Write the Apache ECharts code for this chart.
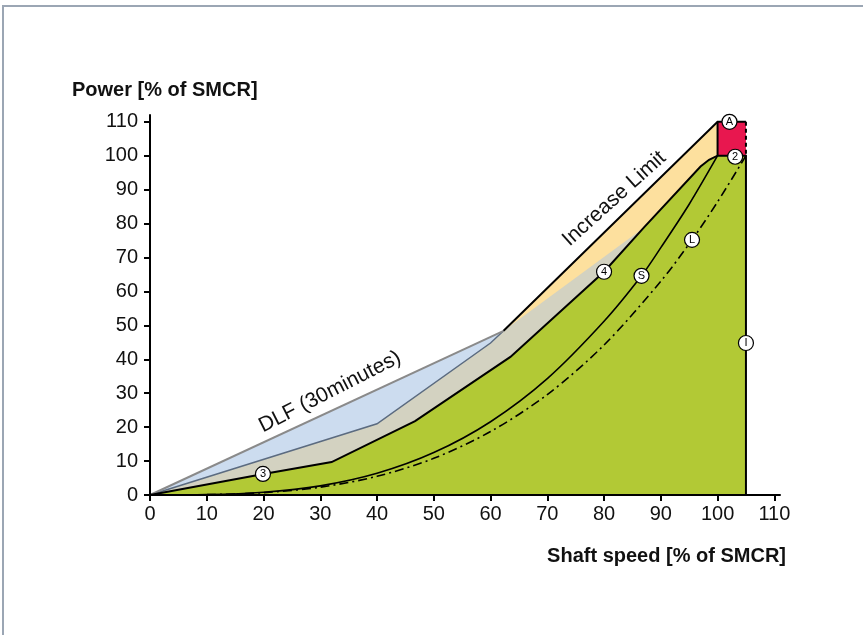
<!DOCTYPE html>
<html>
<head>
<meta charset="utf-8">
<script src="https://cdn.jsdelivr.net/npm/echarts@6/dist/echarts.min.js"></script>
<style>
html,body{margin:0;padding:0;background:#fff;}
#chart{width:863px;height:635px;}
</style>
</head>
<body>
<div id="chart"></div>
<script>
// ---- data (shaft speed %, power %) ----
const xTicks = [0,10,20,30,40,50,60,70,80,90,100,110];
const yTicks = [0,10,20,30,40,50,60,70,80,90,100,110];

const orangeEnvelope = [[0,0],[62.3,48.4],[100,110],[100,100]];
const dlfLine = [[0,0],[62.3,48.4]];
const increaseLimit = [[62.3,48.4],[100,110],[105,110]];
const redBoxLeft = [[100,110],[100,100]];
const redBoxRight = [[105,110],[105,100]];
const redBoxTop = [[100,110],[105,110]];
const slateLine = [[0,0],[40,21],[60,44.8],[62.3,48.4]];
const grayTop = [[0,0],[40,21],[60,44.8],[62.3,48.4],[87,78.8]];
const line4 = [[0,0],[20,6.2],[32,9.7],[46.7,21.8],[63.5,40.7],[80,65.8],[87,78.8],[97,96.8],[98.5,98.8],[100,100],[105,100],[105,0]];
const curveS = [[0,0],[10,0.1],[20,0.8],[30,2.7],[40,6.4],[50,12.5],[60,21.6],[70,34.3],[80,51.2],[86.6,64.6],[90,72.9],[95,85.7],[100,100]];
const curveL = [[0,0],[10,0.1],[20,0.7],[30,2.3],[40,5.5],[50,10.8],[60,18.7],[70,29.6],[80,44.2],[90,63],[95.5,75.2],[100,86.4],[105,100]];
const markerNames = ['A','2','I','L','S','4','3'];
const markerPos = [[102.1,110],[103.1,99.7],[105,44.8],[95.5,75.2],[86.6,64.6],[80,65.8],[19.9,6.2]];
const textLabels = ['DLF (30minutes)','Increase Limit'];
const textPos = [[31.7,30.4],[81.8,87.3]];
const textAngles = [27,42];

const FONT = '"Liberation Sans", Arial, sans-serif';
const chart = echarts.init(document.getElementById('chart'), null, {renderer:'canvas'});

function area(data, color, z){
  return {type:'line', data:data, symbol:'none', silent:true, z:z||2,
    lineStyle:{width:0, color:color}, areaStyle:{color:color, opacity:1}, animation:false};
}
function stroke(data, color, width, type, smooth){
  return {type:'line', data:data, symbol:'none', silent:true, z:3,
    smooth: smooth || false,
    lineStyle:{width:width, color:color, type:type||'solid', cap:'butt', join:'miter'}, animation:false};
}

const option = {
  backgroundColor:'#ffffff',
  animation:false,
  grid:{left:150, right:83, top:115, bottom:140, containLabel:false},
  xAxis:{type:'value', min:0, max:111, interval:10, z:10,
    axisLine:{show:true, lineStyle:{color:'#000', width:2}},
    axisTick:{show:true, length:6, lineStyle:{color:'#000', width:2}, customValues:xTicks},
    axisLabel:{fontSize:20, color:'#111', fontFamily:FONT, margin:9, customValues:xTicks},
    splitLine:{show:false}},
  yAxis:{type:'value', min:0, max:112, interval:10, z:10,
    axisLine:{show:true, lineStyle:{color:'#000', width:2}},
    axisTick:{show:true, length:6, lineStyle:{color:'#000', width:2}, customValues:yTicks},
    axisLabel:{fontSize:20, color:'#111', fontFamily:FONT, margin:12, customValues:yTicks},
    splitLine:{show:false}},
  series:[
    area(orangeEnvelope, '#fde09e'),
    area(dlfLine, '#ccdcef'),
    area(redBoxTop, '#e8174f'),
    area(grayTop, '#d3d2c1'),
    area(line4, '#b2c935'),
    stroke(slateLine, '#5b6b80', 1.5),
    stroke(dlfLine, '#8a8a8a', 2),
    stroke(line4, '#000', 2),
    stroke(increaseLimit, '#000', 2),
    stroke(redBoxLeft, '#000', 2),
    stroke(redBoxRight, '#000', 2, [4,3]),
    stroke(curveS, '#000', 1.6, 'solid', 0.3),
    stroke(curveL, '#000', 1.6, [9,4,2,4], 0.3),
    {type:'scatter', z:6, silent:true, animation:false,
     data: markerPos.map((p,i)=>({value:p, name:markerNames[i]})),
     symbol:'circle', symbolSize:15,
     itemStyle:{color:'#fff', borderColor:'#000', borderWidth:1.2, opacity:1},
     label:{show:true, position:'inside', formatter:'{b}', fontSize:11, color:'#000', fontFamily:FONT}}
  ]
};
chart.setOption(option);

const g = [
  {type:'rect', shape:{x:3, y:6, width:900, height:700}, style:{fill:'none', stroke:'#9ba6b4', lineWidth:2}, z:0, silent:true},
  {type:'text', x:72, y:90, style:{text:'Power [% of SMCR]', font:'bold 20px '+FONT, fill:'#111', textAlign:'left', textVerticalAlign:'middle'}, z:20},
  {type:'text', x:786, y:556, style:{text:'Shaft speed [% of SMCR]', font:'bold 20px '+FONT, fill:'#111', textAlign:'right', textVerticalAlign:'middle'}, z:20}
];
textLabels.forEach((t,i)=>{
  const p = chart.convertToPixel({gridIndex:0}, textPos[i]);
  g.push({type:'text', x:p[0], y:p[1], rotation:textAngles[i]*Math.PI/180,
    style:{text:t, font:'21px '+FONT, fill:'#111', textAlign:'center', textVerticalAlign:'middle'}, z:20});
});
chart.setOption({graphic:{elements:g}});
</script>
</body>
</html>
